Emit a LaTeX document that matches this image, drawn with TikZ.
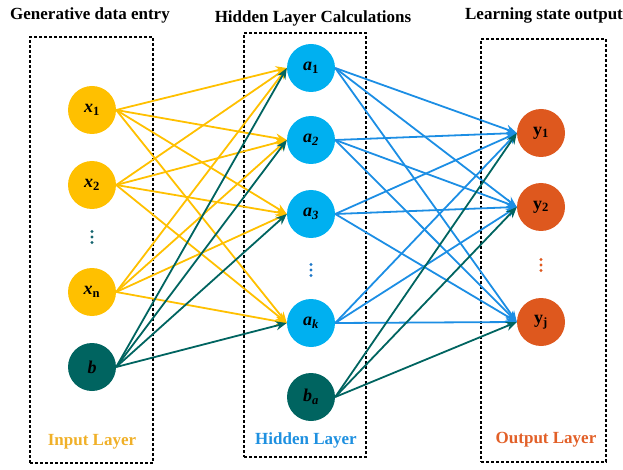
\documentclass[tikz,border=0pt]{standalone}
\usepackage{fontspec}
\setmainfont{Liberation Serif}
\usetikzlibrary{arrows.meta}
\definecolor{cyel}{RGB}{255,192,0}
\definecolor{cblue}{RGB}{0,176,240}
\definecolor{cteal}{RGB}{0,100,96}
\definecolor{corange}{RGB}{222,88,30}
\definecolor{cbedge}{RGB}{28,142,228}
\definecolor{lyel}{RGB}{240,176,40}
\definecolor{lblue}{RGB}{30,144,224}
\definecolor{lorange}{RGB}{226,96,40}
\definecolor{cdotin}{RGB}{20,100,110}
\definecolor{cdothid}{RGB}{30,120,200}
\tikzset{
  neuron/.style={circle, minimum size=48pt, inner sep=0pt, font=\fontsize{18}{20}\selectfont\bfseries},
  inn/.style={neuron, fill=cyel},
  hid/.style={neuron, fill=cblue},
  bias/.style={neuron, fill=cteal},
  outn/.style={neuron, fill=corange},
  layerbox/.style={draw=black, line width=1.6pt, dash pattern=on 3pt off 2pt, inner sep=0pt},
  title/.style={font=\fontsize{17}{20}\selectfont\bfseries},
  edge/.style={line width=1.8pt, -{Stealth[length=11pt,width=9pt]}},
  yedge/.style={edge, draw=cyel},
  tedge/.style={edge, draw=cteal},
  bedge/.style={edge, draw=cbedge},
  vdot/.style={circle, minimum size=3.2pt, inner sep=0pt}
}
\begin{document}
\begin{tikzpicture}[x=1pt,y=-1pt]
\useasboundingbox (0,0) rectangle (623,470);
% boxes
\node[layerbox, minimum width=123pt, minimum height=426pt] (inbox) at (91.5,250) {};
\node[layerbox, minimum width=122pt, minimum height=424pt] (hidbox) at (305,245) {};
\node[layerbox, minimum width=125pt, minimum height=423pt] (outbox) at (543.5,250.5) {};
% titles
\node[title] (t1) at (90,15) {Generative data entry};
\node[title] (t2) at (313,18) {Hidden Layer Calculations};
\node[title] (t3) at (544,15) {Learning state output};
\node[title, text=lyel] (l1) at (92,442) {Input Layer};
\node[title, text=lblue] (l2) at (306,440) {Hidden Layer};
\node[title, text=lorange] (l3) at (546,440) {Output Layer};
% input nodes
\node[inn] (x1) at (92,110) {\textit{x}\textsubscript{1}};
\node[inn] (x2) at (92,185) {\textit{x}\textsubscript{2}};
\foreach \i/\yy in {1/231.5,2/237,3/242.5}{\node[vdot, fill=cdotin] (xd\i) at (92,\yy) {};}
\node[inn] (xn) at (92,292) {\textit{x}\textsubscript{n}};
\node[bias] (b) at (92,367) {\textit{b}};
% hidden nodes
\node[hid] (a1) at (311,68) {\textit{a}\textsubscript{1}};
\node[hid] (a2) at (311,140) {\textit{a}\textsubscript{\textit{2}}};
\node[hid] (a3) at (311,214) {\textit{a}\textsubscript{\textit{3}}};
\foreach \i/\yy in {1/264.5,2/270,3/275.5}{\node[vdot, fill=cdothid] (ad\i) at (311,\yy) {};}
\node[hid] (ak) at (311,323) {\textit{a}\textsubscript{\textit{k}}};
\node[bias] (ba) at (311,397) {\textit{b}\textsubscript{\textit{a}}};
% output nodes
\node[outn] (y1) at (541,133) {y\textsubscript{1}};
\node[outn] (y2) at (541,207) {y\textsubscript{2}};
\foreach \i/\yy in {1/259.5,2/265,3/270.5}{\node[vdot, fill=corange] (yd\i) at (541,\yy) {};}
\node[outn] (yj) at (541,322) {y\textsubscript{j}};
% edges
\foreach \s in {x1,x2,xn}{
  \foreach \t in {a1,a2,a3,ak}{
    \draw[yedge] (\s.east) -- (\t.west);
  }
}
\foreach \t in {a1,a2,a3,ak}{
  \draw[tedge] (b.east) -- (\t.west);
}
\foreach \s in {a1,a2,a3,ak}{
  \foreach \t in {y1,y2,yj}{
    \draw[bedge] (\s.east) -- (\t.west);
  }
}
\foreach \t in {y1,y2,yj}{
  \draw[tedge] (ba.east) -- (\t.west);
}
\end{tikzpicture}
\end{document}
